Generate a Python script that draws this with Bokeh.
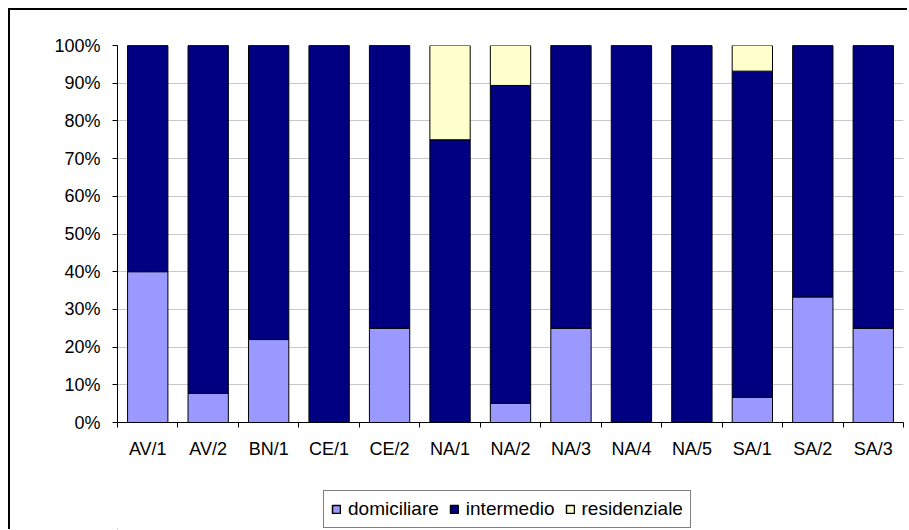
from bokeh.plotting import figure
from bokeh.layouts import column
from bokeh.models import (ColumnDataSource, FixedTicker, PrintfTickFormatter,
                          Legend, LegendItem, Range1d)
from bokeh.embed import file_html
from bokeh.resources import INLINE

categories = ["AV/1", "AV/2", "BN/1", "CE/1", "CE/2", "NA/1", "NA/2",
              "NA/3", "NA/4", "NA/5", "SA/1", "SA/2", "SA/3"]
domiciliare = [40.0, 7.7, 22.0, 0.0, 25.0, 0.0, 5.1, 25.0, 0.0, 0.0, 6.7, 33.3, 25.0]
intermedio = [60.0, 92.3, 78.0, 100.0, 75.0, 75.0, 84.3, 75.0, 100.0, 100.0, 86.5, 66.7, 75.0]
residenziale = [0.0, 0.0, 0.0, 0.0, 0.0, 25.0, 10.6, 0.0, 0.0, 0.0, 6.8, 0.0, 0.0]
series = ["domiciliare", "intermedio", "residenziale"]
colors = ["#9999FF", "#000080", "#FFFFCC"]
y_ticks = list(range(0, 101, 10))

x = list(range(len(categories)))
source = ColumnDataSource(dict(x=x, domiciliare=domiciliare,
                               intermedio=intermedio, residenziale=residenziale))

FONT = "Liberation Sans"
FS = "18px"
W = 897

p = figure(width=W, height=460, output_backend="svg", toolbar_location=None,
           x_range=Range1d(-0.5, len(categories) - 0.5), y_range=Range1d(0, 100),
           min_border_left=107, min_border_top=35, min_border_right=4,
           min_border_bottom=48)
p.outline_line_color = None
p.background_fill_color = "white"
p.border_fill_color = "white"

rs = p.vbar_stack(series, x="x", width=0.667, source=source,
                  fill_color=colors, line_color="black", line_width=1)

# grid
p.xgrid.visible = False
p.ygrid.ticker = FixedTicker(ticks=y_ticks[1:-1])
p.ygrid.grid_line_color = "#c8c8c8"
p.ygrid.grid_line_width = 1

# x axis
xa = p.xaxis[0]
xa.ticker = FixedTicker(ticks=x, minor_ticks=[i - 0.5 for i in range(len(categories) + 1)])
xa.major_label_overrides = {i: c for i, c in zip(x, categories)}
xa.major_tick_out = 0
xa.major_tick_in = 0
xa.minor_tick_out = 5
xa.minor_tick_in = 0
xa.minor_tick_line_color = "black"
xa.axis_line_color = "black"
xa.major_label_standoff = 11
xa.major_label_text_font = FONT
xa.major_label_text_font_size = FS
xa.major_label_text_color = "black"

# y axis
ya = p.yaxis[0]
ya.ticker = FixedTicker(ticks=y_ticks)
ya.formatter = PrintfTickFormatter(format="%d%%")
ya.major_tick_out = 5
ya.major_tick_in = 0
ya.minor_tick_line_color = None
ya.axis_line_color = "black"
ya.major_tick_line_color = "black"
ya.major_label_standoff = 12
ya.major_label_text_font = FONT
ya.major_label_text_font_size = FS
ya.major_label_text_color = "black"

# legend strip (separate figure so the legend is not clipped by the chart frame)
leg_fig = figure(width=W, height=59, output_backend="svg", toolbar_location=None,
                 x_axis_type=None, y_axis_type=None, min_border=0,
                 x_range=Range1d(0, 1), y_range=Range1d(0, 1))
leg_fig.outline_line_color = None
leg_fig.grid.visible = False
leg_fig.background_fill_color = "white"
leg_fig.border_fill_color = "white"
# legend proxies: one hidden bar each, placed fully outside the visible ranges
proxy_src = ColumnDataSource(dict(x=[-50.0], top=[-50.0], bottom=[-60.0]))
proxies = [leg_fig.vbar(x="x", top="top", bottom="bottom", width=0.1, source=proxy_src,
                        fill_color=c, line_color="black", line_width=1.5)
           for c in colors]

legend = Legend(items=[LegendItem(label=s, renderers=[r]) for s, r in zip(series, proxies)],
                orientation="horizontal", location=(206, 1),
                glyph_width=10, glyph_height=10, label_standoff=7, spacing=10,
                padding=7, margin=0, border_line_color="black", border_line_width=1,
                label_text_font=FONT, label_text_font_size="19px", label_height=21,
                label_text_color="black",
                background_fill_color="white", background_fill_alpha=1.0)
leg_fig.add_layout(legend)

layout = column(p, leg_fig, spacing=0)
layout.styles = {"margin-left": "8px", "margin-top": "8px",
                 "border-left": "2px solid black", "border-top": "2px solid black"}

open("out.html", "w").write(file_html(layout, INLINE))
